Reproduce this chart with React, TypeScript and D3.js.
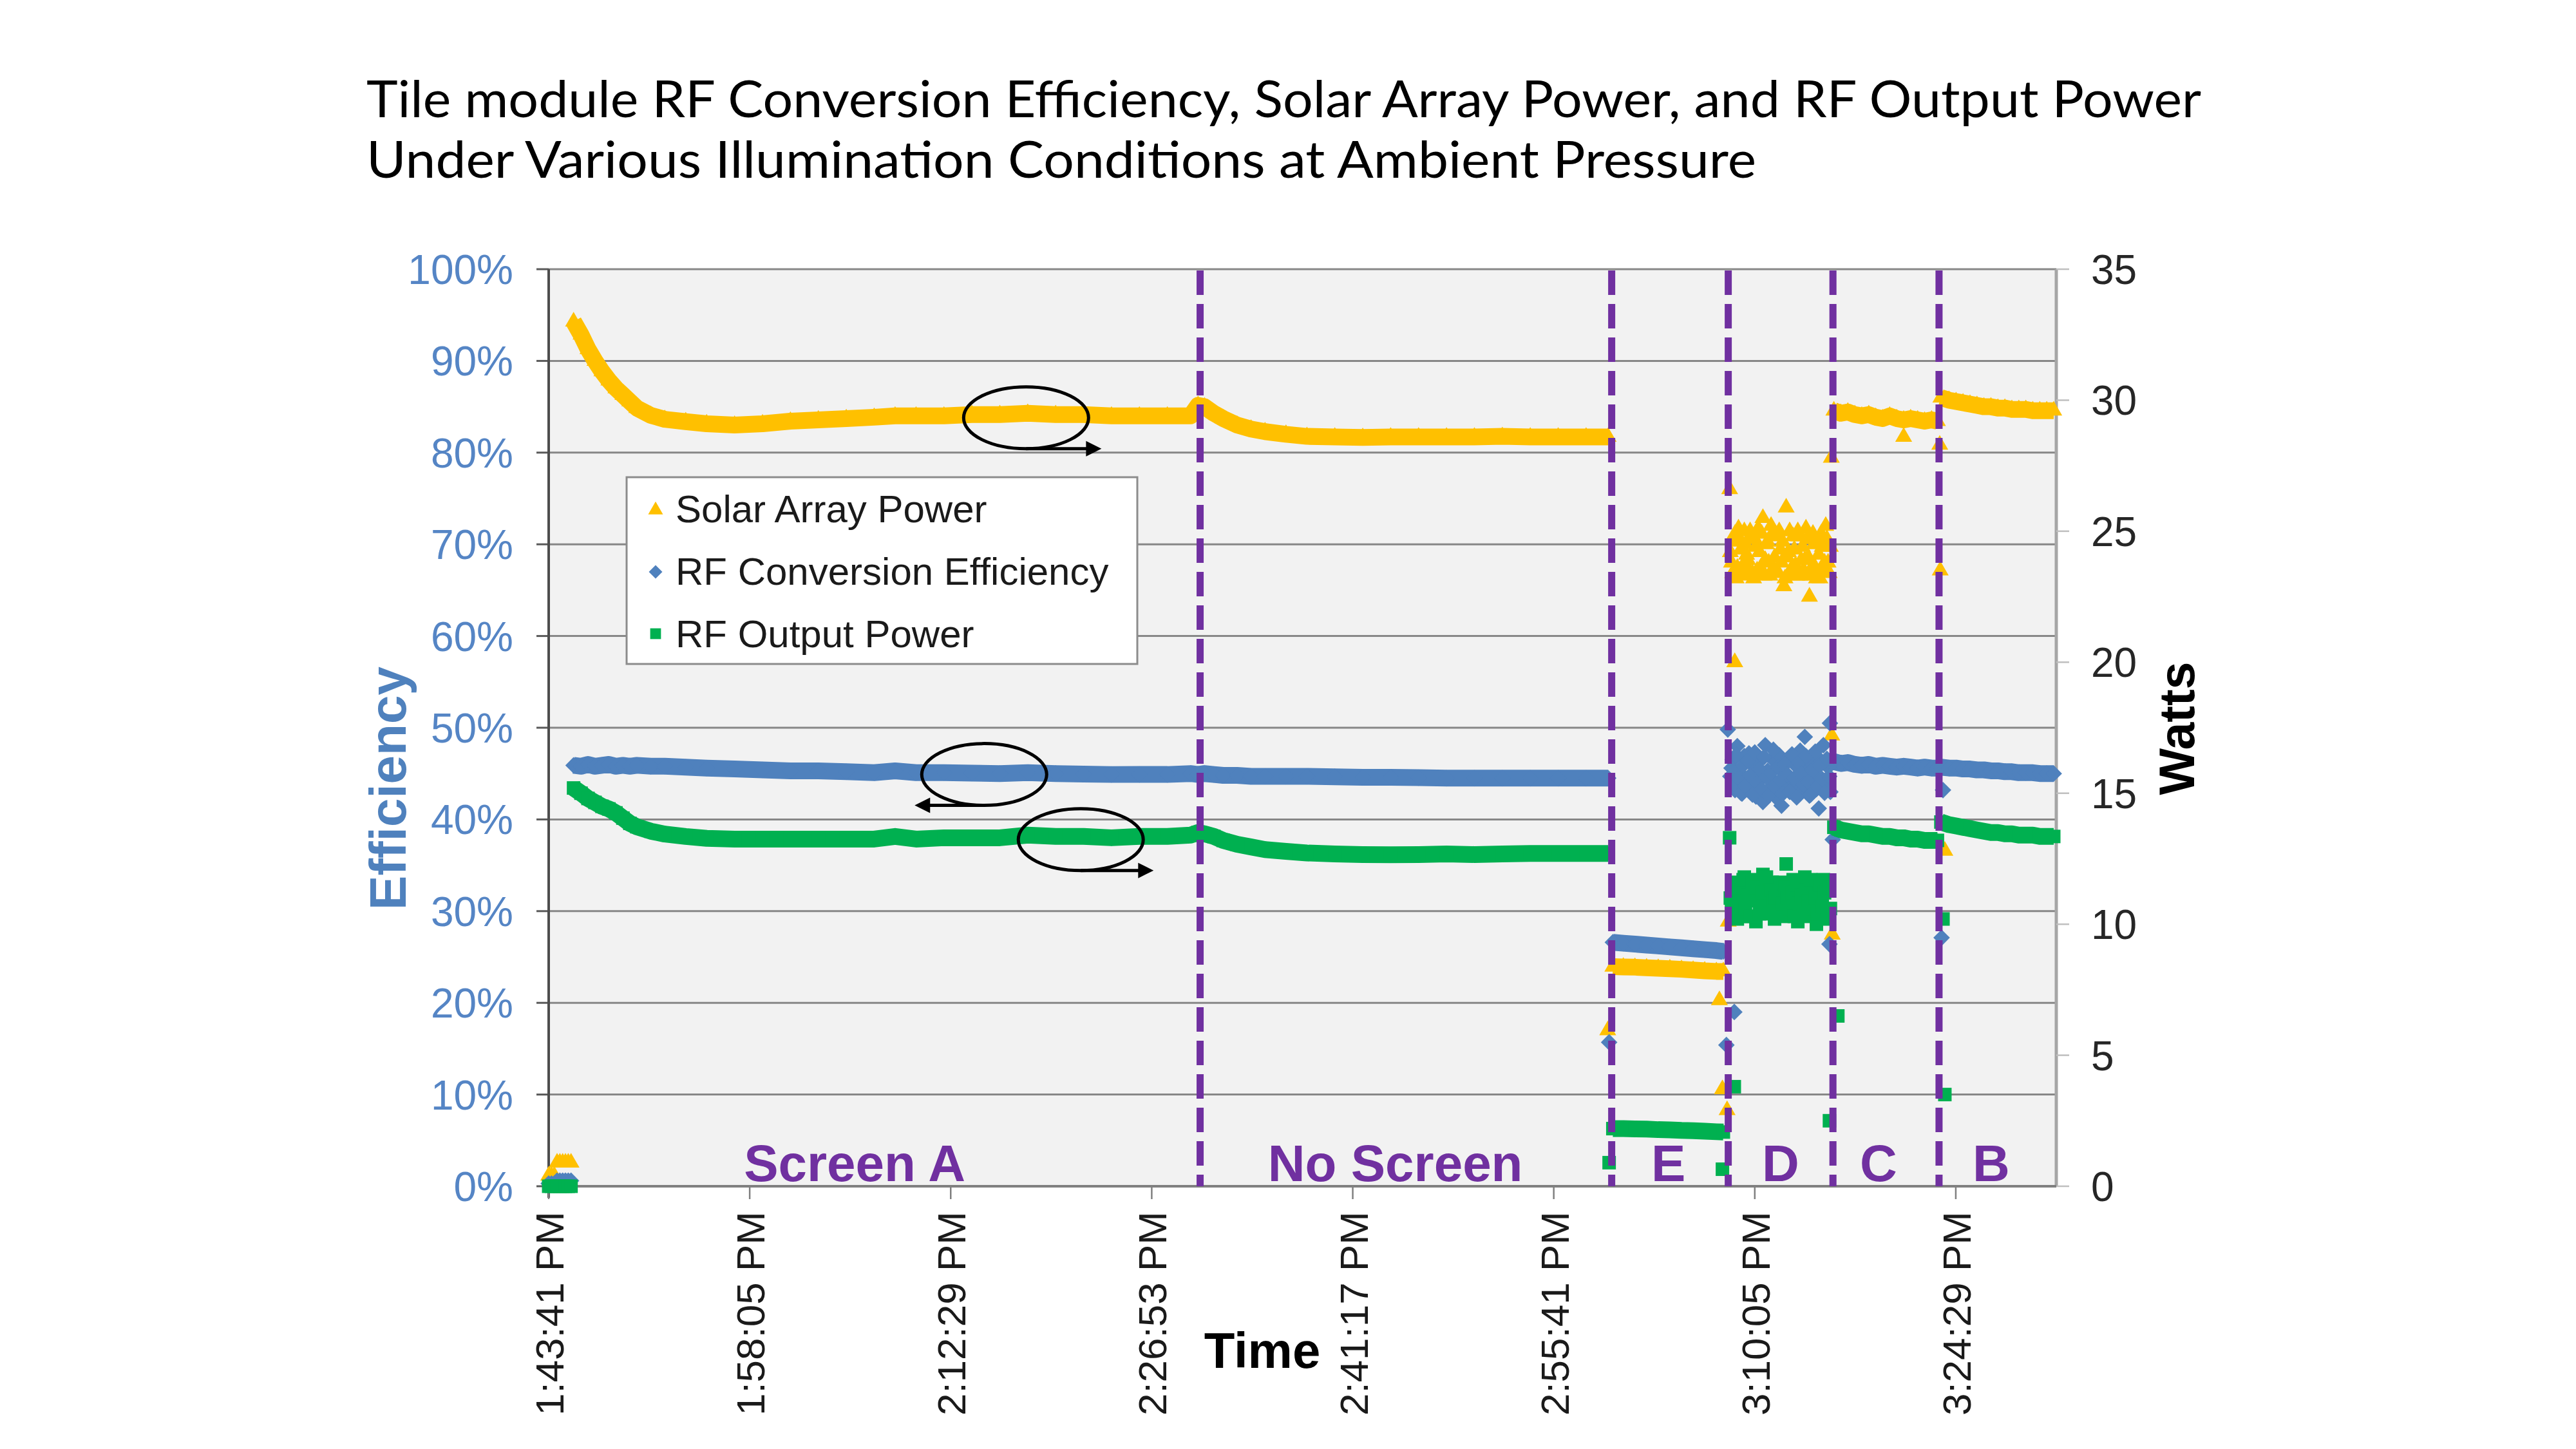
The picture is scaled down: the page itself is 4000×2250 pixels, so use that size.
import React, { useEffect } from "react";
import * as d3 from "d3";

// ---------------- text ----------------
const TITLE_LINES = [
  "Tile module RF Conversion Efficiency, Solar Array Power, and RF Output Power",
  "Under Various Illumination Conditions at Ambient Pressure",
];
const LEGEND_LABELS = ["Solar Array Power", "RF Conversion Efficiency", "RF Output Power"];

// ---------------- axes ----------------
const X_START = "13:43:41";
const X_END = "15:31:41";
const X_TICK_LABELS = [
  "1:43:41 PM", "1:58:05 PM", "2:12:29 PM", "2:26:53 PM",
  "2:41:17 PM", "2:55:41 PM", "3:10:05 PM", "3:24:29 PM",
];
const EFF_TICKS = [0, 10, 20, 30, 40, 50, 60, 70, 80, 90, 100];
const WATT_TICKS = [0, 5, 10, 15, 20, 25, 30, 35];

// ---------------- regions ----------------
const EVENT_TIMES = ["14:30:21", "14:59:50", "15:08:11", "15:15:41", "15:23:17"];
const REGION_LABELS = ["Screen A", "No Screen", "E", "D", "C", "B"];
const REGION_LABEL_TIMES = ["14:05:36", "14:44:20", "15:03:54", "15:11:56", "15:18:57", "15:27:01"];

// ---------------- data: start-up (lamp off) ----------------
const startTimes = ["13:43:41", "13:43:53", "13:44:05", "13:44:17", "13:44:29", "13:44:41", "13:44:53", "13:45:05", "13:45:17"];
const startSolar = [0.4, 0.4, 0.4, 0.9, 0.9, 0.9, 0.9, 0.9, 0.9];
const startEff = [0.3, 0.3, 0.3, 0.6, 0.6, 0.6, 0.6, 0.6, 0.6];
const startRf = [0, 0, 0, 0, 0, 0, 0, 0, 0];

// ---------------- data: Screen A ----------------
const screenATimes = [
  "13:45:28", "13:46:00", "13:46:30", "13:47:00", "13:47:30", "13:48:00", "13:48:30", "13:49:00",
  "13:49:30", "13:50:00", "13:51:00", "13:52:00", "13:53:30", "13:55:00", "13:57:00", "13:59:00",
  "14:01:00", "14:03:00", "14:05:00", "14:07:00", "14:08:30", "14:10:00", "14:12:00", "14:14:00",
  "14:16:00", "14:18:00", "14:20:00", "14:22:00", "14:24:00", "14:26:00", "14:28:00", "14:29:40", "14:30:12",
];
const screenASolar = [
  33.0, 32.5, 31.95, 31.5, 31.1, 30.75, 30.45, 30.2,
  29.95, 29.7, 29.42, 29.27, 29.18, 29.1, 29.05, 29.1,
  29.2, 29.25, 29.3, 29.35, 29.4, 29.4, 29.4, 29.45,
  29.45, 29.5, 29.45, 29.45, 29.4, 29.4, 29.4, 29.4, 29.8,
];
const screenAEff = [
  45.9, 45.8, 46.0, 45.8, 45.9, 46.0, 45.8, 45.9,
  45.8, 45.9, 45.8, 45.8, 45.7, 45.6, 45.5, 45.4,
  45.3, 45.3, 45.2, 45.1, 45.3, 45.1, 45.1, 45.05,
  45.0, 45.1, 45.0, 44.95, 44.9, 44.9, 44.9, 45.0, 44.9,
];
const screenARf = [
  15.2, 15.0, 14.8, 14.65, 14.5, 14.4, 14.25, 14.05,
  13.85, 13.72, 13.55, 13.44, 13.35, 13.28, 13.25, 13.25,
  13.25, 13.25, 13.25, 13.25, 13.35, 13.25, 13.3, 13.3,
  13.3, 13.4, 13.35, 13.35, 13.3, 13.35, 13.35, 13.4, 13.5,
];

// ---------------- data: No Screen ----------------
const noScreenTimes = [
  "14:30:40", "14:31:20", "14:32:00", "14:33:00", "14:34:00", "14:35:00", "14:36:30", "14:38:00",
  "14:40:00", "14:42:00", "14:44:00", "14:46:00", "14:48:00", "14:50:00", "14:52:00", "14:54:00",
  "14:56:00", "14:58:00", "14:59:35",
];
const noScreenSolar = [29.75, 29.5, 29.3, 29.05, 28.9, 28.8, 28.7, 28.62, 28.6, 28.58, 28.6, 28.6, 28.6, 28.6, 28.62, 28.6, 28.6, 28.6, 28.6];
const noScreenEff = [45.0, 44.9, 44.8, 44.8, 44.7, 44.7, 44.7, 44.7, 44.65, 44.6, 44.6, 44.55, 44.5, 44.5, 44.5, 44.5, 44.5, 44.5, 44.5];
const noScreenRf = [13.45, 13.35, 13.2, 13.05, 12.95, 12.85, 12.78, 12.72, 12.68, 12.66, 12.65, 12.66, 12.68, 12.66, 12.68, 12.7, 12.7, 12.7, 12.7];

// ---------------- data: E ----------------
const eTimes = ["14:59:55", "15:00:40", "15:01:30", "15:02:20", "15:03:10", "15:04:00", "15:04:50", "15:05:40", "15:06:30", "15:07:20", "15:07:50"];
const eSolar = [8.38, 8.37, 8.36, 8.34, 8.32, 8.3, 8.28, 8.25, 8.22, 8.2, 8.2];
const eEff = [26.6, 26.5, 26.4, 26.3, 26.2, 26.1, 26.0, 25.9, 25.8, 25.7, 25.6];
const eRf = [2.2, 2.2, 2.19, 2.18, 2.16, 2.15, 2.13, 2.12, 2.1, 2.08, 2.07];

// ---------------- data: D (scattered) ----------------
const dTimes = [
  "15:08:20", "15:08:30", "15:08:40", "15:08:50", "15:09:00", "15:09:10", "15:09:20", "15:09:30",
  "15:09:40", "15:09:50", "15:10:00", "15:10:10", "15:10:20", "15:10:30", "15:10:40", "15:10:50",
  "15:11:00", "15:11:10", "15:11:20", "15:11:30", "15:11:40", "15:11:50", "15:12:00", "15:12:10",
  "15:12:20", "15:12:30", "15:12:40", "15:12:50", "15:13:00", "15:13:10", "15:13:20", "15:13:30",
  "15:13:40", "15:13:50", "15:14:00", "15:14:10", "15:14:20", "15:14:30", "15:14:40", "15:14:50",
  "15:15:00", "15:15:10", "15:15:20", "15:15:30",
];
const dSolar = [
  24.2, 23.4, 24.9, 23.6, 24.7, 23.3, 25.0, 24.1, 23.5, 24.8, 23.2, 24.4, 25.1, 23.6, 25.5, 23.9,
  24.6, 23.3, 24.9, 24.0, 23.5, 25.0, 23.8, 22.9, 25.9, 24.2, 23.4, 24.8, 23.7, 25.0, 23.3, 24.4,
  23.9, 24.7, 22.5, 23.6, 24.5, 23.2, 24.1, 24.9, 23.5, 25.2, 23.8, 24.4,
];
const dEff = [
  44.7, 46.5, 43.2, 48.0, 45.1, 42.8, 46.9, 44.3, 47.2, 43.6, 45.8, 42.5, 46.3, 44.9, 41.9, 48.1,
  45.3, 43.4, 46.6, 44.1, 42.3, 47.0, 41.5, 45.2, 43.8, 46.7, 44.4, 42.9, 45.9, 44.0, 47.5, 43.1,
  49.0, 45.6, 42.6, 46.1, 44.8, 43.3, 41.2, 46.4, 48.1, 44.2, 45.7, 43.0,
];
const dRf = [
  11.0, 10.4, 11.6, 10.2, 11.2, 10.7, 11.8, 10.3, 11.4, 10.9, 11.7, 10.1, 11.3, 10.6, 11.9, 10.4,
  11.1, 10.8, 11.6, 10.2, 11.5, 10.6, 11.0, 10.3, 12.3, 11.2, 10.5, 11.7, 10.9, 10.1, 11.4, 10.7,
  11.8, 10.3, 11.1, 10.5, 11.6, 10.0, 11.3, 10.8, 11.7, 10.2, 11.5, 10.6,
];
// interleaved D readings (5 s later)
const dTimes2 = [
  "15:08:25", "15:08:35", "15:08:45", "15:08:55", "15:09:05", "15:09:15", "15:09:25", "15:09:35",
  "15:09:45", "15:09:55", "15:10:05", "15:10:15", "15:10:25", "15:10:35", "15:10:45", "15:10:55",
  "15:11:05", "15:11:15", "15:11:25", "15:11:35", "15:11:45", "15:11:55", "15:12:05", "15:12:15",
  "15:12:25", "15:12:35", "15:12:45", "15:12:55", "15:13:05", "15:13:15", "15:13:25", "15:13:35",
  "15:13:45", "15:13:55", "15:14:05", "15:14:15", "15:14:25", "15:14:35", "15:14:45", "15:14:55",
  "15:15:05", "15:15:15", "15:15:25",
];
const dSolar2 = [
  23.8, 24.6, 23.2, 25.1, 24.3, 23.7, 24.5, 23.9, 25.0, 23.4, 24.7, 23.5, 24.2, 24.9, 23.3, 24.5,
  23.8, 25.2, 23.6, 24.8, 23.4, 24.3, 24.6, 23.2, 24.0, 25.0, 23.6, 24.3, 23.3, 24.8, 23.9, 23.5,
  25.1, 24.0, 23.3, 24.9, 23.6, 24.6, 23.2, 24.4, 23.8, 24.7, 23.4,
];
const dEff2 = [
  45.6, 43.9, 47.0, 44.5, 42.9, 45.9, 43.7, 46.4, 44.8, 42.7, 47.3, 44.0, 45.5, 43.3, 46.8, 44.6,
  42.6, 45.1, 47.6, 43.5, 45.7, 44.3, 42.8, 46.0, 44.9, 43.0, 47.1, 44.5, 42.4, 46.2, 45.0, 43.8,
  46.9, 44.1, 42.7, 45.4, 47.4, 43.6, 45.9, 44.4, 42.9, 46.6, 44.7,
];
const dRf2 = [
  10.8, 11.5, 10.5, 11.3, 10.9, 11.7, 10.6, 11.1, 10.3, 11.6, 10.9, 11.4, 10.4, 11.2, 10.7, 11.8,
  10.5, 11.3, 10.9, 11.0, 10.4, 11.6, 10.8, 11.4, 11.0, 10.6, 11.2, 10.3, 11.5, 10.8, 11.1, 10.4,
  11.3, 10.9, 11.7, 10.6, 11.0, 10.4, 11.5, 10.7, 11.2, 10.5, 11.4,
];

// ---------------- data: C ----------------
const cTimes = [
  "15:15:45", "15:16:15", "15:16:45", "15:17:15", "15:17:45", "15:18:15", "15:18:45", "15:19:15",
  "15:19:45", "15:20:15", "15:20:45", "15:21:15", "15:21:45", "15:22:15", "15:22:45", "15:23:10",
];
const cSolar = [29.6, 29.5, 29.55, 29.45, 29.4, 29.45, 29.35, 29.3, 29.4, 29.3, 29.25, 29.3, 29.25, 29.2, 29.25, 29.2];
const cEff = [46.3, 46.1, 46.2, 46.0, 45.9, 46.0, 45.8, 45.9, 45.8, 45.7, 45.8, 45.7, 45.6, 45.7, 45.6, 45.6];
const cRf = [13.7, 13.6, 13.55, 13.5, 13.45, 13.45, 13.4, 13.35, 13.35, 13.3, 13.3, 13.25, 13.25, 13.2, 13.2, 13.2];

// ---------------- data: B ----------------
const bTimes = [
  "15:23:25", "15:24:00", "15:24:30", "15:25:00", "15:25:30", "15:26:00", "15:26:30", "15:27:00",
  "15:27:30", "15:28:00", "15:28:30", "15:29:00", "15:29:30", "15:30:00", "15:30:30", "15:31:00", "15:31:30",
];
const bSolar = [30.1, 30.0, 29.95, 29.9, 29.85, 29.8, 29.75, 29.75, 29.7, 29.7, 29.65, 29.65, 29.65, 29.6, 29.6, 29.6, 29.6];
const bEff = [45.7, 45.6, 45.6, 45.5, 45.5, 45.4, 45.4, 45.3, 45.3, 45.2, 45.2, 45.1, 45.1, 45.1, 45.0, 45.0, 45.0];
const bRf = [13.9, 13.8, 13.75, 13.7, 13.65, 13.6, 13.55, 13.5, 13.5, 13.45, 13.45, 13.4, 13.4, 13.4, 13.35, 13.35, 13.35];

// ---------------- data: transition points ----------------
const solarStray: [string, number][] = [
  ["14:59:33", 5.95], ["15:07:33", 7.1], ["15:07:46", 3.7], ["15:08:06", 2.9], ["15:08:11", 10.1],
  ["15:08:17", 26.6], ["15:08:39", 20.0], ["15:15:34", 27.8], ["15:15:36", 17.2], ["15:15:38", 9.6],
  ["15:20:45", 28.6], ["15:23:20", 28.3], ["15:23:22", 23.5], ["15:23:42", 12.8],
];
const effStray: [string, number][] = [
  ["14:59:39", 15.7], ["15:08:03", 15.4], ["15:08:37", 19.0], ["15:08:09", 49.8], ["15:15:26", 26.4],
  ["15:15:28", 50.5], ["15:15:40", 37.8], ["15:23:34", 43.2], ["15:23:28", 27.1],
];
const rfStray: [string, number][] = [
  ["14:59:39", 0.9], ["15:07:46", 0.65], ["15:08:37", 3.8], ["15:08:17", 13.3], ["15:15:26", 2.5],
  ["15:16:02", 6.5], ["15:23:34", 10.2], ["15:23:42", 3.5],
];

// ---------------- annotations (circle + arrow to the axis used) ----------------
const ANNOT_TIMES = ["14:17:53", "14:14:53", "14:21:48"];
const ANNOT_PCT = [83.8, 44.9, 37.8];
const ANNOT_ARROW_TO = ["14:23:17", "14:09:54", "14:27:01"];

// -----------------------------------------------------
const parseT = d3.timeParse("%H:%M:%S");
const parseTick = d3.timeParse("%I:%M:%S %p");
type Pt = [Date, number];
const zip = (ts: string[], vs: number[]): Pt[] => ts.map((t, i) => [parseT(t) as Date, vs[i]]);
const pairs = (ps: [string, number][]): Pt[] => ps.map(([t, v]) => [parseT(t) as Date, v]);

const ARIAL = "'Liberation Sans', Arial, Helvetica, sans-serif";

export default function App() {
  useEffect(() => {
    document.body.style.margin = "0";
  }, []);

  const W = 4000, H = 2250;
  const L = 852, R = 3193, T = 418, B = 1842;

  const x = d3.scaleTime().domain([parseT(X_START) as Date, parseT(X_END) as Date]).range([L, R]);
  const yPct = d3.scaleLinear().domain([0, 100]).range([B, T]);
  const yW = d3.scaleLinear().domain([0, 35]).range([B, T]);

  const shapes: Record<string, { d: string; rot: number }> = {
    tri: { d: d3.symbol(d3.symbolTriangle, 300)() as string, rot: 0 },
    dia: { d: d3.symbol(d3.symbolSquare, 330)() as string, rot: 45 },
    sq: { d: d3.symbol(d3.symbolSquare, 440)() as string, rot: 0 },
  };
  const legendShapes: Record<string, { d: string; rot: number }> = {
    tri: { d: d3.symbol(d3.symbolTriangle, 230)() as string, rot: 0 },
    dia: { d: d3.symbol(d3.symbolSquare, 220)() as string, rot: 45 },
    sq: { d: d3.symbol(d3.symbolSquare, 280)() as string, rot: 0 },
  };

  const series = [
    {
      name: LEGEND_LABELS[0], color: "#FFC000", shape: "tri", y: yW,
      lines: [
        zip(screenATimes, screenASolar).concat(zip(noScreenTimes, noScreenSolar)),
        zip(eTimes, eSolar), zip(cTimes, cSolar), zip(bTimes, bSolar),
      ],
      dots: [...zip(startTimes, startSolar), ...zip(dTimes, dSolar), ...zip(dTimes2, dSolar2), ...pairs(solarStray)],
    },
    {
      name: LEGEND_LABELS[1], color: "#4F81BD", shape: "dia", y: yPct,
      lines: [
        zip(screenATimes, screenAEff).concat(zip(noScreenTimes, noScreenEff)),
        zip(eTimes, eEff), zip(cTimes, cEff), zip(bTimes, bEff),
      ],
      dots: [...zip(startTimes, startEff), ...zip(dTimes, dEff), ...zip(dTimes2, dEff2), ...pairs(effStray)],
    },
    {
      name: LEGEND_LABELS[2], color: "#00B050", shape: "sq", y: yW,
      lines: [
        zip(screenATimes, screenARf).concat(zip(noScreenTimes, noScreenRf)),
        zip(eTimes, eRf), zip(cTimes, cRf), zip(bTimes, bRf),
      ],
      dots: [...zip(startTimes, startRf), ...zip(dTimes, dRf), ...zip(dTimes2, dRf2), ...pairs(rfStray)],
    },
  ];

  const xTicks = X_TICK_LABELS.map((l) => parseTick(l) as Date);

  const marker = (shape: { d: string; rot: number }, px: number, py: number, color: string, key: string) => (
    <path key={key} d={shape.d} transform={`translate(${px},${py}) rotate(${shape.rot})`} fill={color} />
  );

  return (
    <svg width={W} height={H} viewBox={`0 0 ${W} ${H}`} style={{ display: "block", position: "absolute", left: 0, top: 0, background: "#fff" }}>
      <rect x={0} y={0} width={W} height={H} fill="#ffffff" />

      {/* title */}
      <text x={569} y={182} fontFamily="Lato, 'Open Sans', sans-serif" fontSize={80} fill="#000" textLength={2849} lengthAdjust="spacingAndGlyphs">
        {TITLE_LINES[0]}
      </text>
      <text x={569} y={276} fontFamily="Lato, 'Open Sans', sans-serif" fontSize={80} fill="#000" textLength={2158} lengthAdjust="spacingAndGlyphs">
        {TITLE_LINES[1]}
      </text>

      {/* plot area */}
      <rect x={L} y={T} width={R - L} height={B - T} fill="#f2f2f2" />

      {/* horizontal gridlines + left ticks */}
      {EFF_TICKS.map((v) => (
        <g key={`g${v}`}>
          <line x1={L} x2={R} y1={yPct(v)} y2={yPct(v)} stroke="#878787" strokeWidth={3} />
          <line x1={833} x2={L} y1={yPct(v)} y2={yPct(v)} stroke="#595959" strokeWidth={3} />
          <text x={797} y={yPct(v)} dy="0.36em" textAnchor="end" fontFamily={ARIAL} fontSize={64} fill="#5585c5">
            {`${v}%`}
          </text>
        </g>
      ))}

      {/* right axis */}
      <line x1={R} x2={R} y1={T} y2={B} stroke="#a6a6a6" strokeWidth={5} />
      {WATT_TICKS.map((v) => (
        <g key={`w${v}`}>
          <line x1={R} x2={R + 20} y1={yW(v)} y2={yW(v)} stroke="#bfbfbf" strokeWidth={2.5} />
          <text x={3247} y={yW(v)} dy="0.36em" textAnchor="start" fontFamily={ARIAL} fontSize={64} fill="#262626">
            {v}
          </text>
        </g>
      ))}

      {/* left axis & bottom axis */}
      <line x1={L} x2={L} y1={T} y2={B + 18} stroke="#4d4d4d" strokeWidth={4} />
      <line x1={L} x2={R} y1={B} y2={B} stroke="#808080" strokeWidth={4} />
      {xTicks.map((t, i) => (
        <g key={`x${i}`}>
          <line x1={x(t)} x2={x(t)} y1={B} y2={B + 20} stroke="#808080" strokeWidth={2.5} />
          <text
            transform={`translate(${x(t) + 23},${1881}) rotate(-90)`}
            textAnchor="end"
            fontFamily={ARIAL}
            fontSize={62}
            fill="#1a1a1a"
          >
            {X_TICK_LABELS[i]}
          </text>
        </g>
      ))}

      {/* series */}
      {series.map((s, si) => {
        const line = d3.line<Pt>().x((d) => x(d[0])).y((d) => s.y(d[1]));
        const sh = shapes[s.shape];
        return (
          <g key={`s${si}`}>
            {s.lines.map((pts, li) => (
              <path key={`l${li}`} d={line(pts) as string} fill="none" stroke={s.color} strokeWidth={26} strokeLinejoin="round" />
            ))}
            {s.lines.flat().map((p, pi) => marker(sh, x(p[0]), s.y(p[1]), s.color, `lp${pi}`))}
            {s.dots.map((p, pi) => marker(sh, x(p[0]), s.y(p[1]), s.color, `d${pi}`))}
          </g>
        );
      })}

      {/* annotations */}
      {ANNOT_TIMES.map((t, i) => {
        const cx = x(parseT(t) as Date);
        const cy = yPct(ANNOT_PCT[i]);
        const rx = 97, ry = 48;
        const xe = x(parseT(ANNOT_ARROW_TO[i]) as Date);
        const dir = xe > cx ? 1 : -1;
        const ay = cy + ry;
        return (
          <g key={`a${i}`}>
            <ellipse cx={cx} cy={cy} rx={rx} ry={ry} fill="none" stroke="#000" strokeWidth={5} />
            <line x1={cx} x2={xe - dir * 18} y1={ay} y2={ay} stroke="#000" strokeWidth={5} />
            <path d={`M${xe},${ay} L${xe - dir * 24},${ay - 12} L${xe - dir * 24},${ay + 12} Z`} fill="#000" />
          </g>
        );
      })}

      {/* legend */}
      <g>
        <rect x={973} y={741} width={793} height={290} fill="#ffffff" stroke="#8c8c8c" strokeWidth={3} />
        {series.map((s, i) => (
          <g key={`lg${i}`}>
            {marker(legendShapes[s.shape], 1018, 792 + i * 96, s.color, `lgm${i}`)}
            <text x={1049} y={811 + i * 97} fontFamily={ARIAL} fontSize={60} fill="#1a1a1a">
              {s.name}
            </text>
          </g>
        ))}
      </g>

      {/* event lines */}
      {EVENT_TIMES.map((t, i) => {
        const ex = x(parseT(t) as Date);
        return <line key={`e${i}`} x1={ex} x2={ex} y1={T + 2} y2={B} stroke="#7030A0" strokeWidth={11} strokeDasharray="38 14" />;
      })}

      {/* region labels */}
      {REGION_LABELS.map((lab, i) => (
        <text
          key={`r${i}`}
          x={x(parseT(REGION_LABEL_TIMES[i]) as Date)}
          y={1834}
          textAnchor="middle"
          fontFamily={ARIAL}
          fontWeight="bold"
          fontSize={80}
          fill="#7030A0"
        >
          {lab}
        </text>
      ))}

      {/* axis titles */}
      <text transform="translate(630,1224) rotate(-90)" textAnchor="middle" fontFamily={ARIAL} fontWeight="bold" fontSize={80} fill="#4F81BD">
        Efficiency
      </text>
      <text transform="translate(3407,1131) rotate(-90)" textAnchor="middle" fontFamily={ARIAL} fontWeight="bold" fontSize={77} fill="#000">
        Watts
      </text>
      <text x={1960} y={2124} textAnchor="middle" fontFamily={ARIAL} fontWeight="bold" fontSize={78} fill="#000">
        Time
      </text>
    </svg>
  );
}
